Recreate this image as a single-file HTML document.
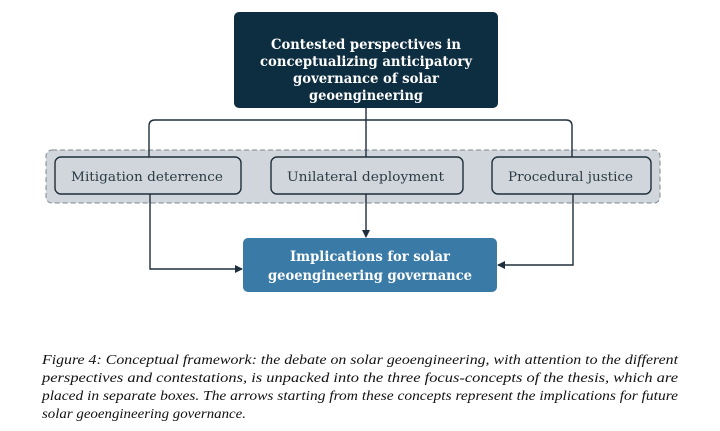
<!DOCTYPE html>
<html><head><meta charset="utf-8"><style>
html,body{margin:0;padding:0;background:#fff;}
svg{display:block}
.b{font-family:"DejaVu Serif","Liberation Serif",serif;font-weight:bold;fill:#fff;font-size:14px;}
.m{font-family:"DejaVu Serif","Liberation Serif",serif;fill:#2b3a45;font-size:13px;}
.c{font-family:"Liberation Serif",serif;font-style:italic;font-size:13.5px;fill:#111;}
</style></head><body>
<svg width="720" height="431" viewBox="0 0 720 431" xmlns="http://www.w3.org/2000/svg">
<defs><marker id="a" markerWidth="8" markerHeight="8" refX="7" refY="4" orient="auto" markerUnits="userSpaceOnUse"><path d="M0,0 L8,4 L0,8 z" fill="#1e2e3b"/></marker></defs>
<rect x="46" y="150" width="614" height="53" rx="6" fill="#d0d6db" stroke="#7d8891" stroke-dasharray="5,3" stroke-width="1"/>
<rect x="234" y="12" width="264" height="96" rx="5" fill="#0d2d40"/>
<text class="b" text-anchor="middle" x="366" y="49" textLength="190" lengthAdjust="spacingAndGlyphs">Contested perspectives in</text>
<text class="b" text-anchor="middle" x="366" y="66" textLength="212" lengthAdjust="spacingAndGlyphs">conceptualizing anticipatory</text>
<text class="b" text-anchor="middle" x="366" y="83" textLength="146" lengthAdjust="spacingAndGlyphs">governance of solar</text>
<text class="b" text-anchor="middle" x="366" y="100" textLength="114" lengthAdjust="spacingAndGlyphs">geoengineering</text>
<g fill="none" stroke="#1e2e3b" stroke-width="1.4">
<path d="M149,157 V126 Q149,120 155,120 H566 Q572,120 572,126 V157"/>
<path d="M366,108 V157"/>
<path d="M150,194 V269 H242" marker-end="url(#a)"/>
<path d="M366,194 V237" marker-end="url(#a)"/>
<path d="M573,194 V265 H498" marker-end="url(#a)"/>
</g>
<g fill="#d0d6db" stroke="#1e2e3b" stroke-width="1.4">
<rect x="55" y="157" width="186" height="37" rx="6"/>
<rect x="271" y="157" width="192" height="37" rx="6"/>
<rect x="492" y="157" width="159" height="37" rx="6"/>
</g>
<text class="m" x="71" y="181" textLength="152" lengthAdjust="spacingAndGlyphs">Mitigation deterrence</text>
<text class="m" x="287" y="181" textLength="157" lengthAdjust="spacingAndGlyphs">Unilateral deployment</text>
<text class="m" x="508" y="181" textLength="125" lengthAdjust="spacingAndGlyphs">Procedural justice</text>
<rect x="243" y="238" width="254" height="54" rx="5" fill="#3a7aa6"/>
<text class="b" text-anchor="middle" x="370" y="261" textLength="160" lengthAdjust="spacingAndGlyphs">Implications for solar</text>
<text class="b" text-anchor="middle" x="370" y="280" textLength="204" lengthAdjust="spacingAndGlyphs">geoengineering governance</text>
<text class="c" x="42" y="364" textLength="636" lengthAdjust="spacingAndGlyphs">Figure 4: Conceptual framework: the debate on solar geoengineering, with attention to the different</text>
<text class="c" x="42" y="382" textLength="636" lengthAdjust="spacingAndGlyphs">perspectives and contestations, is unpacked into the three focus-concepts of the thesis, which are</text>
<text class="c" x="42" y="400" textLength="636" lengthAdjust="spacingAndGlyphs">placed in separate boxes. The arrows starting from these concepts represent the implications for future</text>
<text class="c" x="42" y="418" textLength="204" lengthAdjust="spacingAndGlyphs">solar geoengineering governance.</text>
</svg>
</body></html>
